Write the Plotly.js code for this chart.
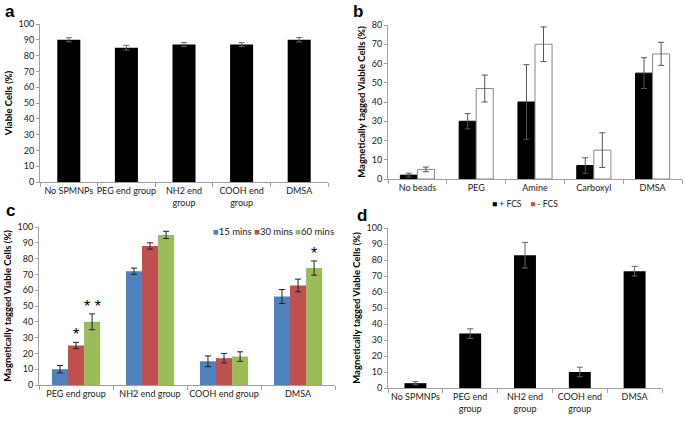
<!DOCTYPE html>
<html><head><meta charset="utf-8">
<script src="https://cdn.plot.ly/plotly-3.0.1.min.js"></script>
<style>html,body{margin:0;padding:0;background:#fff}#chart{width:685px;height:421px}</style>
</head><body><div id="chart"></div>
<script>
// Panel a
const catsA = ['No SPMNPs','PEG end group','NH2 end<br>group','COOH end<br>group','DMSA'];
const viableA = [90,85,87,87,90];
const viableAErr = [1.3,1.5,1.2,1.2,1.4];
// Panel b
const catsB = ['No beads','PEG','Amine','Carboxyl','DMSA'];
const plusFCS = [2,30,40,7,55];
const plusFCSErr = [1,4,19.4,4,8];
const minusFCS = [5,47,70,15,65];
const minusFCSErr = [1.2,7,9,9,6];
const namesB = ['+ FCS','- FCS'];
const legendColorsB = ['#000000','#c0504d'];
// Panel c
const catsC = ['PEG end group','NH2 end group','COOH end group','DMSA'];
const seriesC = ['15 mins','30 mins','60 mins'];
const min15 = [10,72,15,56];
const min15Err = [2.3,2,3.4,4.4];
const min30 = [25,88,17,63];
const min30Err = [2,2,3,4];
const min60 = [40,95,18,74];
const min60Err = [5,2.3,3,4.5];
const colorsC = ['#4f81bd','#c0504d','#9bbb59'];
const sigC = [{series:1, cat:0, text:'*'},{series:2, cat:0, text:'* *'},{series:2, cat:3, text:'*'}];
// Panel d
const catsD = ['No SPMNPs','PEG end<br>group','NH2 end<br>group','COOH end<br>group','DMSA'];
const taggedD = [3,34,83,10,73];
const taggedDErr = [1,3,8,3,3];

const FONT = 'Lato, "Liberation Sans", sans-serif';
const tickFont = {family: FONT, size: 9, color: '#222'};
const titleFont = {family: FONT, size: 9.5, color: '#000', weight: 'bold'};

function eb(arr, color){ return {type:'data', array:arr, visible:true, color:color, thickness:1, width:3}; }

const traces = [];
traces.push({type:'bar', x:catsA, y:viableA, xaxis:'x', yaxis:'y', width:0.4, offset:-0.2,
  marker:{color:'#000'}, error_y:eb(viableAErr,'#666'), showlegend:false, hoverinfo:'x+y'});
traces.push({type:'bar', name:namesB[0], x:catsB, y:plusFCS, xaxis:'x2', yaxis:'y2', width:0.29, offset:-0.29,
  marker:{color:'#000', line:{color:'#000', width:1}}, error_y:eb(plusFCSErr,'#555'), showlegend:false});
traces.push({type:'bar', name:namesB[1], x:catsB, y:minusFCS, xaxis:'x2', yaxis:'y2', width:0.29, offset:0,
  marker:{color:'#fff', line:{color:'#888', width:1}}, error_y:eb(minusFCSErr,'#555'), showlegend:false});
const valsC = [min15, min30, min60], errsC = [min15Err, min30Err, min60Err];
const wC = 0.217, offC = [-0.325, -0.108, 0.109];
seriesC.forEach((n,i)=>{
  traces.push({type:'bar', name:n, x:catsC, y:valsC[i], xaxis:'x3', yaxis:'y3', width:wC, offset:offC[i],
    marker:{color:colorsC[i]}, error_y:eb(errsC[i],'#222'), showlegend:false});
});
traces.push({type:'bar', x:catsD, y:taggedD, xaxis:'x4', yaxis:'y4', width:0.4, offset:-0.2,
  marker:{color:'#000'}, error_y:eb(taggedDErr,'#666'), showlegend:false});

function xax(domain, anchor){
  return {domain:domain, anchor:anchor, type:'category', showline:true, linecolor:'#a0a0a0', linewidth:1,
    ticks:'outside', tickson:'boundaries', ticklen:4, tickcolor:'#a0a0a0', showgrid:false, zeroline:false,
    tickangle:0, tickfont:tickFont, fixedrange:true};
}
function yax(domain, anchor, range, dtick, title){
  return {domain:domain, anchor:anchor, range:range, dtick:dtick, showline:true, linecolor:'#a0a0a0', linewidth:1,
    ticks:'outside', ticklen:3, tickcolor:'#a0a0a0', showgrid:false, zeroline:false, tickfont:tickFont,
    title:{text:title, font:titleFont, standoff:4}, fixedrange:true};
}
const W = 685, H = 421;
const px = (a,b)=>[a/W, b/W];
const py = (top,bottom)=>[1-bottom/H, 1-top/H];

const annotations = [];
// panel letters
[['a',10,12],['b',358,12],['c',10,210],['d',362,215]].forEach(([t,x,y])=>{
  annotations.push({text:'<b>'+t+'</b>', xref:'paper', yref:'paper', x:x/W, y:1-y/H, showarrow:false,
    xanchor:'center', yanchor:'middle', font:{family:'"Liberation Sans", Arial, sans-serif', size:17, color:'#000'}});
});
// legend b
annotations.push({xref:'paper', yref:'paper', x:525/W, y:1-204/H, showarrow:false, xanchor:'center', yanchor:'middle',
  text: namesB.map((n,i)=>'<span style="color:'+legendColorsB[i]+'">■</span> '+n).join('&nbsp;&nbsp;&nbsp;&nbsp;'),
  font:{family:FONT, size:8.5, color:'#222'}});
// legend c
annotations.push({xref:'paper', yref:'paper', x:273/W, y:1-231/H, showarrow:false, xanchor:'center', yanchor:'middle',
  text: seriesC.map((n,i)=>'<span style="color:'+colorsC[i]+'">■</span>'+n).join('&nbsp;'),
  font:{family:FONT, size:9.5, color:'#222'}});
// significance markers
sigC.forEach(s=>{
  annotations.push({xref:'x3', yref:'y3', x: s.cat + offC[s.series] + wC/2, y: valsC[s.series][s.cat] + errsC[s.series][s.cat],
    yanchor:'bottom', xanchor:'center', showarrow:false, text:s.text, yshift:-3,
    font:{family:'"Liberation Sans", Arial, sans-serif', size:16, color:'#000'}});
});

const layout = {
  width:W, height:H, margin:{l:0,r:0,t:0,b:0}, paper_bgcolor:'#fff', plot_bgcolor:'#fff',
  barmode:'group', showlegend:false,
  xaxis: xax(px(40,328),'y'), yaxis: yax(py(24,182),'x',[0,100],10,'Viable Cells (%)'),
  xaxis2: xax(px(388,682),'y2'), yaxis2: yax(py(25,179),'x2',[0,80],10,'Magnetically tagged Viable Cells (%)'),
  xaxis3: xax(px(39,335),'y3'), yaxis3: yax(py(227,385),'x3',[0,100],10,'Magnetically tagged Viable Cells (%)'),
  xaxis4: xax(px(388,662),'y4'), yaxis4: yax(py(228,388),'x4',[0,100],10,'Magnetically tagged Viable Cells (%)'),
  annotations: annotations
};
Plotly.newPlot('chart', traces, layout, {displayModeBar:false, staticPlot:true});
</script></body></html>
